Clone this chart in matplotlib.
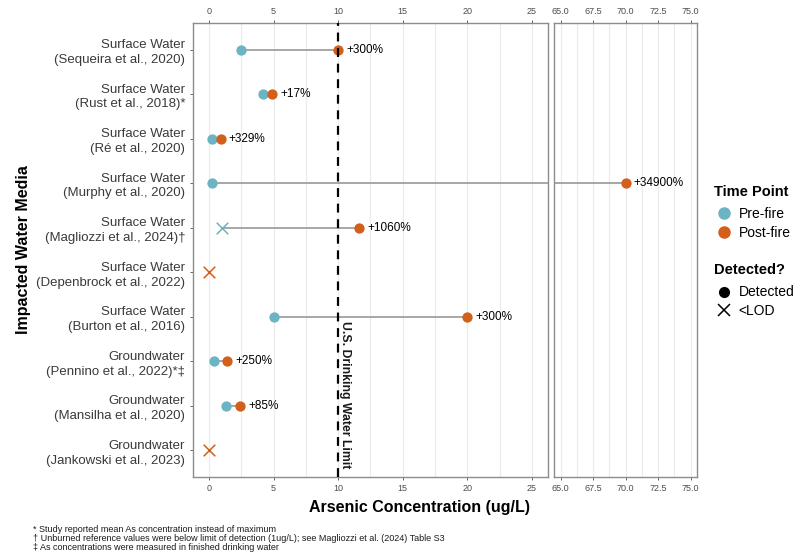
import numpy as np
import matplotlib
matplotlib.use("Agg")
import matplotlib.pyplot as plt
from matplotlib.lines import Line2D

plt.rcParams['font.family'] = ['Liberation Sans', 'DejaVu Sans']

# data, top to bottom
studies = ['Surface Water\n(Sequeira et al., 2020)',
           'Surface Water\n(Rust et al., 2018)*',
           'Surface Water\n(Ré et al., 2020)',
           'Surface Water\n(Murphy et al., 2020)',
           'Surface Water\n(Magliozzi et al., 2024)†',
           'Surface Water\n(Depenbrock et al., 2022)',
           'Surface Water\n(Burton et al., 2016)',
           'Groundwater\n(Pennino et al., 2022)*‡',
           'Groundwater\n(Mansilha et al., 2020)',
           'Groundwater\n(Jankowski et al., 2023)']
pre_fire = [2.5, 4.2, 0.21, 0.2, 1.0, np.nan, 5.0, 0.4, 1.3, np.nan]
post_fire = [10.0, 4.9, 0.9, 70.0, 11.6, 0.0, 20.0, 1.4, 2.4, 0.0]
pre_detected = [True, True, True, True, False, True, True, True, True, True]
post_detected = [True, True, True, True, True, False, True, True, True, False]
pct_labels = ['+300%', '+17%', '+329%', '+34900%', '+1060%', '', '+300%', '+250%', '+85%', '']
limit = 10

footnotes = ['* Study reported mean As concentration instead of maximum',
             '† Unburned reference values were below limit of detection (1ug/L); see Magliozzi et al. (2024) Table S3',
             '‡ As concentrations were measured in finished drinking water']

PRE_COL = '#6cb4c4'
POST_COL = '#d2601a'
GRID = '#ebebeb'
FRAME = '#8c8c8c'

fig = plt.figure(figsize=(8, 5.6), dpi=100)
ax1 = fig.add_axes([0.241, 0.148, 0.444, 0.811])
ax2 = fig.add_axes([0.6925, 0.148, 0.1788, 0.811])

y = np.arange(len(studies))

for ax in (ax1, ax2):
    # segments
    for i in range(len(studies)):
        if not np.isnan(pre_fire[i]):
            ax.plot([pre_fire[i], post_fire[i]], [y[i], y[i]], color='#a0a0a0', lw=1.3, zorder=2)
    for i in range(len(studies)):
        if not np.isnan(pre_fire[i]):
            if pre_detected[i]:
                ax.scatter(pre_fire[i], y[i], s=55, color=PRE_COL, zorder=3, linewidths=0)
            else:
                ax.scatter(pre_fire[i], y[i], s=70, color=PRE_COL, marker='x', zorder=3, linewidths=1.1)
        if post_detected[i]:
            ax.scatter(post_fire[i], y[i], s=55, color=POST_COL, zorder=4, linewidths=0)
        else:
            ax.scatter(post_fire[i], y[i], s=70, color=POST_COL, marker='x', zorder=4, linewidths=1.1)
        if pct_labels[i]:
            ax.annotate(pct_labels[i], (post_fire[i], y[i]), xytext=(6, 0), textcoords='offset points',
                        va='center', ha='left', fontsize=8.5, color='black', annotation_clip=True)
    ax.set_ylim(9.6, -0.6)
    for s in ax.spines.values():
        s.set_color(FRAME)
        s.set_linewidth(1.0)
    ax.tick_params(axis='x', top=True, labeltop=True, labelsize=6.5, labelcolor='#4d4d4d',
                   color='#4d4d4d', length=2.5, width=0.6, pad=2.5)
    ax.set_axisbelow(True)
    ax.grid(axis='x', which='both', color=GRID, lw=0.8)

ax1.set_xlim(-1.25, 26.25)
ax1.set_xticks([0, 5, 10, 15, 20, 25])
ax1.set_xticks(np.arange(2.5, 26, 5), minor=True)
ax1.tick_params(axis='x', which='minor', length=0)
ax1.set_yticks(y)
ax1.set_yticklabels(studies, fontsize=9.5, color='#3a3a3a', linespacing=1.3)
ax1.tick_params(axis='y', length=2.5, color='#4d4d4d', width=0.6, pad=3)
ax1.axvline(limit, color='black', lw=1.6, ls=(0, (4, 3)), zorder=5)
ax1.text(limit + 0.1, 6.1, 'U.S. Drinking Water Limit', rotation=-90, ha='left', va='top',
         fontsize=8.8, fontweight='bold', color='#1a1a1a')

ax2.set_xlim(64.5, 75.5)
ax2.set_xticks([65, 67.5, 70, 72.5, 75])
ax2.set_xticklabels(['65.0', '67.5', '70.0', '72.5', '75.0'])
ax2.set_xticks(np.arange(66.25, 75, 2.5), minor=True)
ax2.tick_params(axis='x', which='minor', length=0)
ax2.set_yticks([])

fig.text(0.524, 0.093, 'Arsenic Concentration (ug/L)', ha='center', va='center',
         fontsize=11.5, fontweight='bold')
fig.text(0.03, 0.555, 'Impacted Water Media', rotation=90, ha='center', va='center',
         fontsize=11.5, fontweight='bold')

for k, note in enumerate(footnotes):
    fig.text(0.041, 0.054 - k * 0.0158, note, fontsize=6.5, ha='left', va='center', color='#1a1a1a')

# legends
time_handles = [Line2D([], [], marker='o', ls='', color=PRE_COL, markersize=8, label='Pre-fire'),
                Line2D([], [], marker='o', ls='', color=POST_COL, markersize=8, label='Post-fire')]
det_handles = [Line2D([], [], marker='o', ls='', color='black', markersize=7, label='Detected'),
               Line2D([], [], marker='x', ls='', color='black', markersize=9, mew=1.1, label='<LOD')]
leg1 = fig.legend(handles=time_handles, title='Time Point', loc='upper left',
                  bbox_to_anchor=(0.885, 0.68), frameon=False, fontsize=10,
                  title_fontproperties={'weight': 'bold', 'size': 10.5},
                  handletextpad=0.3, labelspacing=0.35, borderaxespad=0, handlelength=1.5)
leg1._legend_box.align = 'left'
leg1._legend_box.sep = 6
leg2 = fig.legend(handles=det_handles, title='Detected?', loc='upper left',
                  bbox_to_anchor=(0.885, 0.54), frameon=False, fontsize=10,
                  title_fontproperties={'weight': 'bold', 'size': 10.5},
                  handletextpad=0.3, labelspacing=0.35, borderaxespad=0, handlelength=1.5)
leg2._legend_box.align = 'left'
leg2._legend_box.sep = 6

fig.savefig('out.png', dpi=100)
